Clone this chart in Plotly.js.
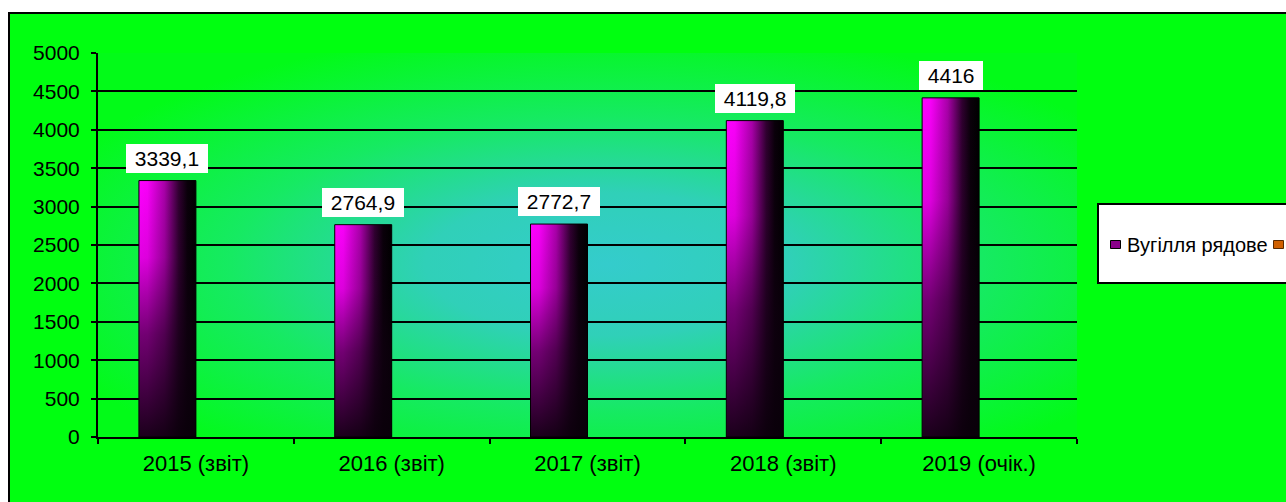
<!DOCTYPE html>
<html><head><meta charset="utf-8">
<script src="https://cdn.plot.ly/plotly-3.0.1.min.js"></script>
<style>
html,body{margin:0;padding:0;background:#fff;width:1286px;height:502px;overflow:hidden;}
#frame{position:absolute;left:8px;top:12px;width:1320px;height:530px;border:2px solid #000;background:#00FF10;box-sizing:border-box;}
#chart{position:absolute;left:0;top:0;width:1286px;height:502px;}
</style></head><body>
<div id="frame"></div><div id="chart"></div>
<script>
const categories = ['2015 (звіт)', '2016 (звіт)', '2017 (звіт)', '2018 (звіт)', '2019 (очік.)'];
const coalValues = [3339.1, 2764.9, 2772.7, 4119.8, 4416];
const secondValues = [0, 0, 0, 0, 0];
const seriesNames = ['Вугілля рядове', ''];
const yTickValues = [0, 500, 1000, 1500, 2000, 2500, 3000, 3500, 4000, 4500, 5000];
const valueLabels = coalValues.map(v => String(v).replace('.', ','));

const FONT = '"Liberation Sans", Arial, sans-serif';
const BARGAP = 0.418;
const barWidthCat = (1 - BARGAP) / 2;

// plot area in pixels
const M = {l: 98, r: 209, t: 53, b: 65};
const W = 1286, H = 502;
const pw = W - M.l - M.r, ph = H - M.t - M.b;
const px = X => (X - M.l) / pw;
const py = Y => (H - M.b - Y) / ph;

const data = [
  {type: 'bar', x: categories, y: coalValues, name: seriesNames[0],
   marker: {color: '#A000A0', line: {color: '#000', width: 1}}, hoverinfo: 'skip'},
  {type: 'bar', x: categories, y: secondValues, name: seriesNames[1],
   marker: {color: '#D06000', line: {color: '#000', width: 0}}, hoverinfo: 'skip'}
];

const annotations = coalValues.map((v, i) => ({
  x: i - barWidthCat / 2, y: v, xref: 'x', yref: 'y',
  text: '\u00a0' + valueLabels[i] + '\u00a0', showarrow: false,
  xanchor: 'center', yanchor: 'bottom', yshift: 8,
  bgcolor: '#fff', borderpad: 3, borderwidth: 0,
  font: {family: FONT, size: 21, color: '#000'}
}));
annotations.push({
  x: px(1125), y: py(244.5), xref: 'paper', yref: 'paper', xanchor: 'left', yanchor: 'middle',
  text: seriesNames[0], showarrow: false, font: {family: FONT, size: 20, color: '#000'}
});

const shapes = [
  {type: 'rect', xref: 'paper', yref: 'paper', x0: px(1098), x1: px(1330), y0: py(283), y1: py(204),
   fillcolor: '#fff', line: {color: '#000', width: 2}},
  {type: 'rect', xref: 'paper', yref: 'paper', x0: px(1110.5), x1: px(1120.5), y0: py(248.5), y1: py(240.5),
   fillcolor: '#8A008A', line: {color: '#000', width: 1}},
  {type: 'rect', xref: 'paper', yref: 'paper', x0: px(1273.5), x1: px(1283.5), y0: py(248.5), y1: py(240.5),
   fillcolor: '#D06000', line: {color: '#5A2A00', width: 1}}
];

const layout = {
  width: W, height: H,
  margin: M,
  paper_bgcolor: 'rgba(0,0,0,0)',
  plot_bgcolor: '#00FF10',
  showlegend: false,
  barmode: 'group', bargap: BARGAP, bargroupgap: 0,
  font: {family: FONT, size: 20, color: '#000'},
  xaxis: {
    type: 'category', showline: true, linecolor: '#000', linewidth: 2,
    ticks: 'outside', tickson: 'boundaries', ticklen: 5, tickwidth: 2, tickcolor: '#000',
    ticklabelstandoff: 6,
    showgrid: false, tickfont: {family: FONT, size: 22, color: '#000'}
  },
  yaxis: {
    range: [0, 5000], tickvals: yTickValues, ticktext: yTickValues.map(String),
    showline: true, linecolor: '#000', linewidth: 2,
    ticks: 'outside', ticklen: 5, tickwidth: 2, tickcolor: '#000',
    ticklabelstandoff: 7,
    showgrid: true, gridcolor: '#000', gridwidth: 2, zeroline: false,
    tickfont: {family: FONT, size: 21, color: '#000'}
  },
  annotations: annotations,
  shapes: shapes
};

Plotly.newPlot('chart', data, layout, {staticPlot: true, displayModeBar: false}).then(gd => {
  const NS = 'http://www.w3.org/2000/svg';
  const svg = gd.querySelector('svg.main-svg');
  let defs = svg.querySelector('defs');
  if (!defs) { defs = document.createElementNS(NS, 'defs'); svg.insertBefore(defs, svg.firstChild); }
  function grad(tag, id, attrs, stops) {
    const g = document.createElementNS(NS, tag);
    g.setAttribute('id', id);
    for (const k in attrs) g.setAttribute(k, attrs[k]);
    stops.forEach(s => {
      const st = document.createElementNS(NS, 'stop');
      st.setAttribute('offset', s[0]);
      st.setAttribute('stop-color', s[1]);
      st.setAttribute('stop-opacity', s[2] === undefined ? 1 : s[2]);
      g.appendChild(st);
    });
    defs.appendChild(g);
  }
  grad('radialGradient', 'plotGrad', {cx: 0.52, cy: 0.55, r: 0.62}, [
    [0, '#34CCCC'], [0.3, '#30D0B8'], [0.62, '#16EA62'], [1, '#02FB18']
  ]);
  grad('linearGradient', 'barBase', {x1: 0, y1: 0, x2: 1, y2: 0}, [
    [0, '#FF00FF'], [0.15, '#F800F8'], [0.45, '#A800A8'], [0.7, '#300030'], [0.85, '#0A000A'], [1, '#000000']
  ]);
  grad('linearGradient', 'barShade', {x1: 0, y1: 0, x2: 0, y2: 1}, [
    [0, '#100010', 0], [0.3, '#100010', 0.12], [0.6, '#100010', 0.58], [1, '#0A000A', 0.93]
  ]);
  const bg = gd.querySelector('.bglayer rect.bg');
  if (bg) bg.style.fill = 'url(#plotGrad)';
  const trace = gd.querySelectorAll('.barlayer .trace.bars')[0];
  if (trace) {
    trace.querySelectorAll('path').forEach(p => {
      const c = p.cloneNode(true);
      p.style.fill = 'url(#barBase)';
      p.style.stroke = 'none';
      c.style.fill = 'url(#barShade)';
      c.style.fillOpacity = 1;
      c.style.stroke = '#000';
      c.style.strokeWidth = '1px';
      p.parentNode.insertBefore(c, p.nextSibling);
    });
  }
});
</script>
</body></html>
